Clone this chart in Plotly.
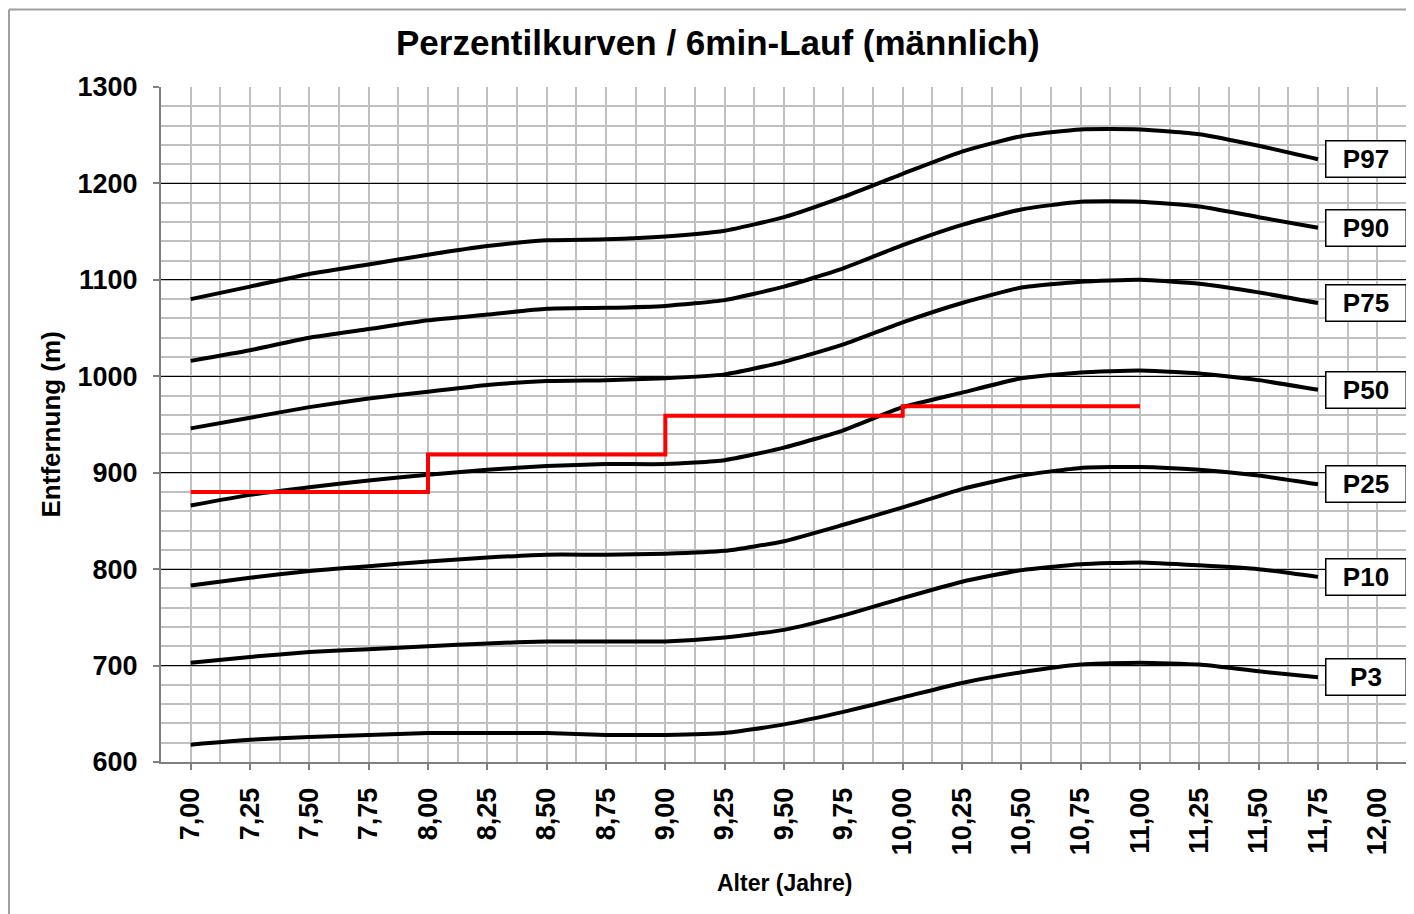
import plotly.graph_objects as go

ages = [7.00, 7.25, 7.50, 7.75, 8.00, 8.25, 8.50, 8.75, 9.00, 9.25,
        9.50, 9.75, 10.00, 10.25, 10.50, 10.75, 11.00, 11.25, 11.50, 11.75]
tick_ages = [7.00, 7.25, 7.50, 7.75, 8.00, 8.25, 8.50, 8.75, 9.00, 9.25, 9.50,
             9.75, 10.00, 10.25, 10.50, 10.75, 11.00, 11.25, 11.50, 11.75, 12.00]
tick_labels = ["7,00", "7,25", "7,50", "7,75", "8,00", "8,25", "8,50", "8,75", "9,00",
               "9,25", "9,50", "9,75", "10,00", "10,25", "10,50", "10,75", "11,00",
               "11,25", "11,50", "11,75", "12,00"]
y_ticks = [600, 700, 800, 900, 1000, 1100, 1200, 1300]

p97 = [1080, 1093, 1106, 1116, 1126, 1135, 1141, 1142, 1145, 1151,
       1165, 1186, 1210, 1233, 1249, 1256, 1256, 1251, 1239, 1225]
p90 = [1016, 1027, 1040, 1049, 1058, 1064, 1070, 1071, 1073, 1079,
       1093, 1112, 1136, 1157, 1173, 1181, 1181, 1176, 1165, 1154]
p75 = [946, 957, 968, 977, 984, 991, 995, 996, 998, 1002,
       1015, 1033, 1056, 1076, 1092, 1098, 1100, 1096, 1087, 1076]
p50 = [866, 877, 885, 892, 898, 903, 907, 909, 909, 913,
       926, 944, 968, 983, 998, 1004, 1006, 1003, 996, 986]
p25 = [783, 791, 798, 803, 808, 812, 815, 815, 816, 819,
       829, 846, 864, 883, 897, 905, 906, 903, 897, 888]
p10 = [703, 709, 714, 717, 720, 723, 725, 725, 725, 729,
       737, 752, 770, 787, 799, 805, 807, 804, 800, 792]
p3 = [618, 623, 626, 628, 630, 630, 630, 628, 628, 630,
      639, 652, 667, 682, 693, 701, 703, 701, 694, 688]

curves = [("P97", p97), ("P90", p90), ("P75", p75), ("P50", p50),
          ("P25", p25), ("P10", p10), ("P3", p3)]

red_ages = [7.00, 8.00, 9.00, 10.00, 11.00]
red_vals = [880, 919, 959, 969, 969]

FONT = "Liberation Sans, Arial, sans-serif"

fig = go.Figure()
for name, vals in curves:
    fig.add_trace(go.Scatter(x=ages, y=vals, mode="lines", name=name,
                             line=dict(color="black", width=4, shape="spline", smoothing=0.5),
                             showlegend=False, hoverinfo="skip"))

fig.add_trace(go.Scatter(x=red_ages, y=red_vals, mode="lines", name="Ergebnis",
                         line=dict(color="#ff0000", width=4, shape="hv"),
                         showlegend=False))

annotations = []
for name, vals in curves:
    annotations.append(dict(
        x=1.0, xref="paper", xanchor="right", y=vals[-1], yref="y", yanchor="middle",
        text="<b>%s</b>" % name, showarrow=False,
        font=dict(family=FONT, size=26, color="black"),
        bgcolor="white", bordercolor="black", borderwidth=1.5, borderpad=2,
        width=75, height=31, align="center"))

annotations.append(dict(x=(718 - 161) / 1246, xref="paper", y=(762 - 42) / 675, yref="paper",
                        text="<b>Perzentilkurven / 6min-Lauf (männlich)</b>", showarrow=False,
                        xanchor="center", yanchor="middle",
                        font=dict(family=FONT, size=35, color="black")))
annotations.append(dict(x=(784 - 161) / 1246, xref="paper", y=(762 - 883) / 675, yref="paper",
                        text="<b>Alter (Jahre)</b>", showarrow=False,
                        xanchor="center", yanchor="middle",
                        font=dict(family=FONT, size=23, color="black")))
annotations.append(dict(x=(50 - 161) / 1246, xref="paper", y=0.5, yref="paper",
                        text="<b>Entfernung (m)</b>", showarrow=False, textangle=-90,
                        xanchor="center", yanchor="middle",
                        font=dict(family=FONT, size=26, color="black")))

minor_x = [6.875 + 0.25 * k for k in range(22)]

fig.update_layout(
    width=1406, height=906,
    margin=dict(l=153, r=7, t=79, b=152),
    paper_bgcolor="white", plot_bgcolor="white",
    font=dict(family=FONT, color="black"),
    annotations=annotations,
    xaxis=dict(
        range=[6.875, 12.125], tickvals=tick_ages,
        ticktext=["<b>%s</b>" % t for t in tick_labels],
        tickangle=-90, tickfont=dict(family=FONT, size=27, color="black"),
        ticks="outside", ticklen=6, tickcolor="#808080", tickwidth=1.5,
        showgrid=True, gridcolor="#c0c0c0", gridwidth=1.5,
        minor=dict(tickvals=minor_x, showgrid=True, gridcolor="#c0c0c0", gridwidth=1.5, ticks=""),
        showline=True, linecolor="#808080", linewidth=2,
        zeroline=False, ticklabelstandoff=7, fixedrange=True,
    ),
    yaxis=dict(
        range=[600, 1300], tickvals=y_ticks,
        ticktext=["<b>%d</b>" % v for v in y_ticks],
        tickfont=dict(family=FONT, size=27, color="black"),
        ticks="outside", ticklen=6, tickcolor="#808080", tickwidth=1.5,
        showgrid=True, gridcolor="black", gridwidth=1,
        minor=dict(dtick=20, tick0=600, showgrid=True, gridcolor="#c0c0c0", gridwidth=1.5, ticks=""),
        showline=True, linecolor="#808080", linewidth=2,
        zeroline=False, ticklabelstandoff=10, fixedrange=True,
    ),
    shapes=[
        dict(type="line", xref="paper", yref="paper", x0=1, x1=1, y0=0, y1=1,
             line=dict(color="black", width=2)),
        dict(type="line", xref="paper", yref="paper",
             x0=(9 - 161) / 1246, x1=(1414 - 161) / 1246,
             y0=(762 - 9.5) / 675, y1=(762 - 9.5) / 675,
             line=dict(color="#a0a0a0", width=2)),
        dict(type="line", xref="paper", yref="paper",
             x0=(9 - 161) / 1246, x1=(9 - 161) / 1246,
             y0=(762 - 9.5) / 675, y1=(762 - 914) / 675,
             line=dict(color="#a0a0a0", width=2)),
    ],
)

fig.write_html("out.html")
